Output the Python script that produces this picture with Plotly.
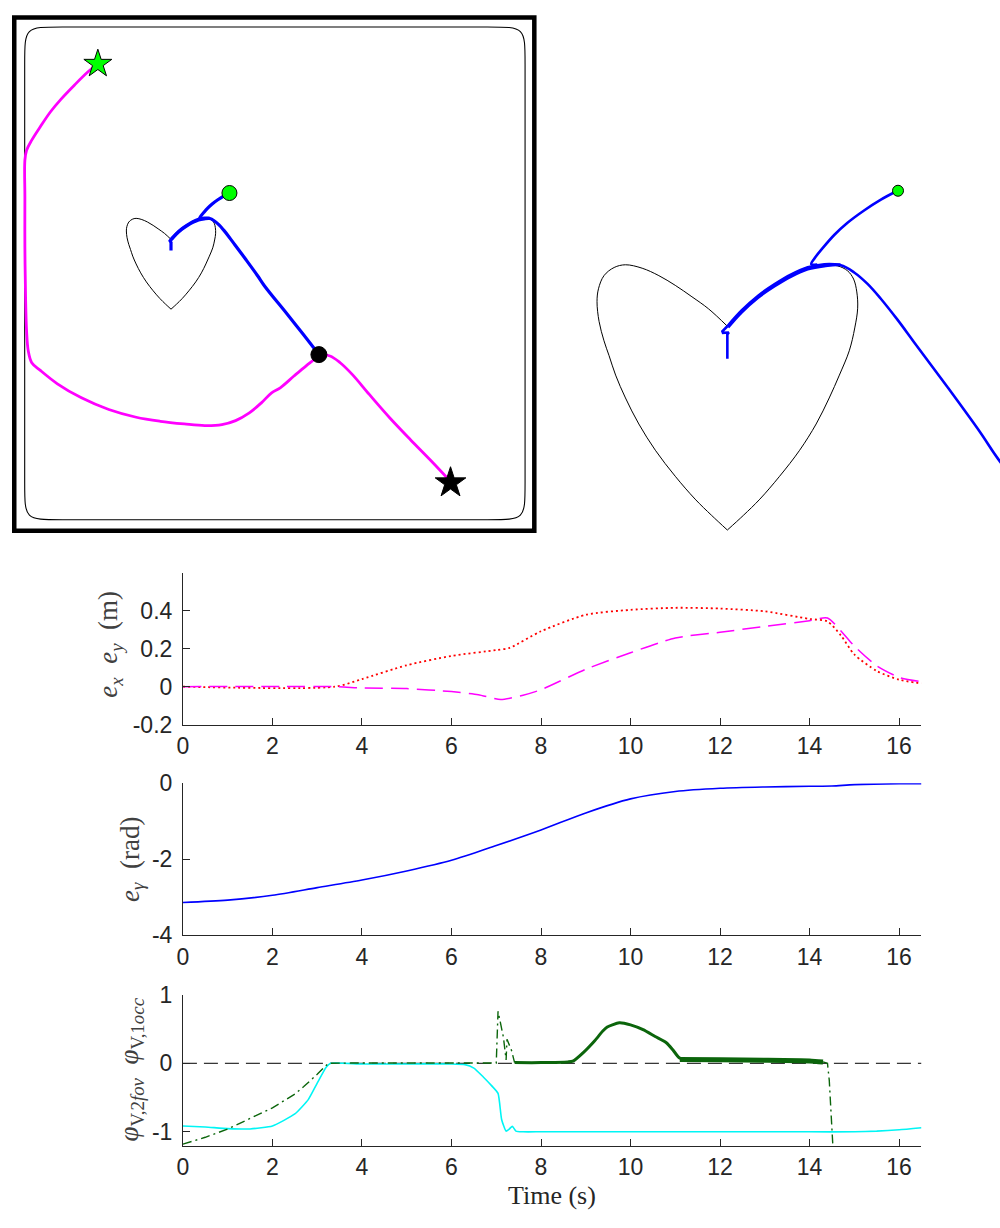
import plotly.graph_objects as go

W, H = 1000, 1228

# ---------------- workspace (metres) ----------------
# heart-shaped target contour, drawn as two halves meeting at the cusp
heart_left_x = [-1.045, -1.099, -1.156, -1.2245, -1.293, -1.350, -1.396, -1.430, -1.4525, -1.470,
                -1.487, -1.494, -1.489, -1.470, -1.435, -1.396, -1.3385, -1.281, -1.2245, -1.167,
                -1.110, -1.045]
heart_left_y = [-0.366, -0.315, -0.258, -0.178, -0.087, 0.005, 0.096, 0.176, 0.244, 0.296,
                0.364, 0.433, 0.478, 0.524, 0.5525, 0.562, 0.550, 0.524, 0.490, 0.450,
                0.408, 0.347]
heart_right_x = [-1.045, -0.996, -0.939, -0.882, -0.825, -0.768, -0.711, -0.665, -0.631, -0.610,
                 -0.599, -0.596, -0.606, -0.625, -0.659, -0.694, -0.739, -0.796, -0.865, -0.933,
                 -0.990, -1.045]
heart_right_y = [0.347, 0.398, 0.450, 0.490, 0.524, 0.549, 0.560, 0.558, 0.541, 0.512,
                 0.467, 0.410, 0.341, 0.261, 0.176, 0.096, 0.005, -0.087, -0.178, -0.258,
                 -0.315, -0.366]

# arena boundary (rounded square)
arena_half = 2.517
arena_corner = 0.38

# robot 1 (magenta): start (green star) -> goal (black star)
mag_x = [-1.781, -1.877, -2.015, -2.153, -2.257, -2.360, -2.446, -2.498, -2.515, -2.515,
         -2.515, -2.508, -2.498, -2.481, -2.446, -2.360, -2.188, -1.946, -1.671, -1.395,
         -1.153, -0.912, -0.705, -0.533, -0.395, -0.257, -0.136, -0.033, 0.054, 0.192,
         0.312, 0.398, 0.443, 0.554, 0.657, 0.778, 0.950, 1.157, 1.364, 1.571, 1.767]
mag_y = [2.140, 2.062, 1.925, 1.778, 1.651, 1.498, 1.361, 1.258, 1.156, 0.780,
         0.267, -0.246, -0.588, -0.793, -0.913, -0.991, -1.128, -1.272, -1.391, -1.470,
         -1.511, -1.538, -1.555, -1.545, -1.504, -1.425, -1.323, -1.220, -1.169, -1.049,
         -0.947, -0.878, -0.834, -0.844, -0.913, -1.032, -1.237, -1.477, -1.699, -1.914, -2.126]

# robot 2 (blue), split into passes
blue1_x = [-0.459, -0.516, -0.574, -0.631, -0.676, -0.716, -0.745, -0.756, -0.735]
blue1_y = [0.821, 0.790, 0.752, 0.709, 0.667, 0.621, 0.584, 0.564, 0.563]
blue2_x = [-0.655, -0.711, -0.768, -0.825, -0.882, -0.939, -0.996, -1.045]
blue2_y = [0.563, 0.564, 0.553, 0.528, 0.494, 0.454, 0.402, 0.347]
blue3_x = [-1.045, -1.062, -1.060, -1.040, -1.045, -1.045]
blue3_y = [0.347, 0.329, 0.324, 0.325, 0.318, 0.233]
blue4_x = [-1.042, -0.996, -0.939, -0.882, -0.825, -0.768, -0.711, -0.654, -0.608, -0.562,
           -0.517, -0.459, -0.403, -0.288, -0.174, -0.106, 0.125, 0.275, 0.443]
blue4_y = [0.343, 0.395, 0.447, 0.487, 0.521, 0.546, 0.557, 0.560, 0.535, 0.495,
           0.444, 0.370, 0.293, 0.136, -0.024, -0.126, -0.418, -0.610, -0.830]

start1 = (-1.781, 2.140)
goal1 = (1.767, -2.140)
start2 = (-0.457, 0.821)
meet = (0.443, -0.830)

# ---------------- time histories ----------------
t_ex = [0, 3.4, 4, 5, 6, 7, 7.3, 8, 9, 10, 11, 12, 13, 14, 14.4, 14.7, 15, 15.5, 16, 16.5]
e_x = [0, 0, 0.04, 0.113, 0.162, 0.193, 0.205, 0.292, 0.379, 0.405, 0.416, 0.412, 0.397, 0.357,
       0.344, 0.27, 0.17, 0.083, 0.037, 0.017]
t_ey = [0, 3.4, 4, 5, 6, 6.6, 7.1, 7.6, 8, 9, 10, 11, 12, 13, 14, 14.4, 15, 15.5, 16, 16.5]
e_y = [0, 0, -0.007, -0.010, -0.026, -0.042, -0.068, -0.045, -0.016, 0.092, 0.179, 0.257, 0.287,
       0.318, 0.348, 0.362, 0.214, 0.110, 0.049, 0.026]

t_g = [0, 1, 2, 3, 4, 5, 6, 7, 8, 9, 10, 11, 12, 13, 14, 14.5, 15, 16, 16.5]
e_g = [-3.14, -3.08, -2.95, -2.75, -2.55, -2.31, -2.03, -1.64, -1.23, -0.78, -0.41, -0.215,
       -0.13, -0.095, -0.077, -0.07, -0.035, -0.01, -0.01]

t_fov = [0, 0.5, 1.0, 1.5, 2.0, 2.5, 2.8, 3.0, 3.2, 3.3, 4.0, 5.0, 6.0, 6.3, 6.5, 6.71, 6.9,
         7.04, 7.12, 7.22, 7.29, 7.36, 7.44, 7.6, 8.0, 10.0, 12.0, 14.0, 15.0, 15.5, 16.0, 16.5]
phi_fov = [-0.915, -0.93, -0.953, -0.958, -0.915, -0.74, -0.53, -0.29, -0.057, 0.0, -0.01,
           -0.01, -0.01, -0.02, -0.07, -0.20, -0.33, -0.44, -0.82, -0.99, -0.96, -0.92, -0.99,
           -1.0, -1.0, -1.0, -1.0, -1.0, -1.0, -0.99, -0.97, -0.94]

t_occ_a = [0, 0.5, 1.0, 1.5, 2.0, 2.5, 2.7, 3.0, 3.25, 4, 5, 6, 7.0, 7.04, 7.16, 7.22, 7.24,
           7.34, 7.41]
phi_occ_a = [-1.18, -1.08, -0.96, -0.81, -0.65, -0.45, -0.34, -0.16, 0.0, 0.005, 0.005, 0.005,
             0.005, 0.76, 0.38, 0.05, 0.35, 0.19, 0.01]
t_occ_b = [7.41, 8.0, 8.6, 8.71, 8.95, 9.2, 9.38, 9.48, 9.75, 10.0, 10.28, 10.55, 10.8, 10.94,
           11.08, 11.2]
phi_occ_b = [0.01, 0.01, 0.02, 0.03, 0.16, 0.33, 0.47, 0.53, 0.59, 0.56, 0.49, 0.39, 0.30, 0.20,
             0.085, 0.05]
t_occ_c = [11.1, 12, 13, 14, 14.3]
phi_occ_c = [0.055, 0.05, 0.045, 0.035, 0.02]
t_occ_d = [14.3, 14.4, 14.44, 14.48, 14.52]
phi_occ_d = [0.02, 0.0, -0.25, -0.75, -1.2]

t_ticks = [0, 2, 4, 6, 8, 10, 12, 14, 16]
exy_ticks = [-0.2, 0, 0.2, 0.4]
exy_text = ["-0.2", "0", "0.2", "0.4"]
eg_ticks = [-4, -2, 0]
eg_text = ["-4", "-2", "0"]
phi_ticks = [-1, 0, 1]
phi_text = ["-1", "0", "1"]

# ---------------- colours ----------------
MAG = "#FF00FF"
BLUE = "#0000FF"
LIME = "#00FF00"
CYAN = "#00F5F5"
DKGREEN = "#0B650B"
AX = "#262626"


def xdom(a, b):
    return [a / W, b / W]


def ydom(top, bottom):
    return [1 - bottom / H, 1 - top / H]


fig = go.Figure()


def line(x, y, ax, color, width, dash="solid", shape="spline", smoothing=1.0):
    fig.add_trace(go.Scatter(x=x, y=y, xaxis="x" + ax, yaxis="y" + ax, mode="lines",
                             line=dict(color=color, width=width, dash=dash, shape=shape,
                                       smoothing=smoothing if shape == "spline" else None),
                             hoverinfo="skip"))


def marker(pt, ax, symbol, size, color):
    fig.add_trace(go.Scatter(x=[pt[0]], y=[pt[1]], xaxis="x" + ax, yaxis="y" + ax,
                             mode="markers",
                             marker=dict(symbol=symbol, size=size, color=color,
                                         line=dict(color="black", width=1)),
                             hoverinfo="skip"))


# ---- overview panel and zoomed view ----
for ax, hw, bw in (("", 1.0, 3.2), ("2", 1.0, 2.6)):
    line(heart_left_x, heart_left_y, ax, "black", hw)
    line(heart_right_x, heart_right_y, ax, "black", hw)
    if ax == "":
        line(mag_x, mag_y, ax, MAG, 2.8)
    line(blue1_x, blue1_y, ax, BLUE, bw)
    line(blue2_x, blue2_y, ax, BLUE, bw)
    line(blue3_x, blue3_y, ax, BLUE, bw, shape="linear")
    line(blue4_x, blue4_y, ax, BLUE, bw)

marker(start1, "", "star", 21, LIME)
marker(goal1, "", "star", 23, "black")
marker(start2, "", "circle", 15, LIME)
marker(meet, "", "circle", 16, "black")
marker(start2, "2", "circle", 11, LIME)

# ---- error plots ----
line(t_ex, e_x, "3", "#FF0000", 1.8, dash="2px,3px", smoothing=0.7)
line(t_ey, e_y, "3", MAG, 1.5, dash="18px,8px", smoothing=0.6)

line(t_g, e_g, "4", BLUE, 1.6, smoothing=0.8)

line([0, 16.5], [0, 0], "5", "black", 1.0, dash="14px,7px", shape="linear")
line(t_fov, phi_fov, "5", CYAN, 1.6, smoothing=0.5)
line(t_occ_a, phi_occ_a, "5", DKGREEN, 1.4, dash="9px,4px,2px,4px", shape="linear")
line(t_occ_b, phi_occ_b, "5", DKGREEN, 3.0, smoothing=0.6)
line(t_occ_c, phi_occ_c, "5", DKGREEN, 5.0, smoothing=0.6)
line(t_occ_d, phi_occ_d, "5", DKGREEN, 1.4, dash="9px,4px,2px,4px", shape="linear")

# ---------------- layout ----------------
hidden = dict(visible=False, showgrid=False, zeroline=False, fixedrange=True)

tick_font = dict(family="Liberation Sans, Arial, sans-serif", size=23, color=AX)


def time_x(anchor):
    return dict(domain=xdom(178, 921), anchor=anchor, range=[0, 16.5],
                tickvals=t_ticks, ticks="inside", ticklen=7, tickcolor=AX, tickwidth=1,
                showline=True, linecolor=AX, linewidth=1, showgrid=False, zeroline=False,
                tickfont=tick_font, ticklabelstandoff=1)


def time_y(anchor, top, bottom, rng, vals, text):
    return dict(domain=ydom(top, bottom), anchor=anchor, range=rng, tickvals=vals,
                ticktext=text, ticks="inside", ticklen=7, tickcolor=AX, tickwidth=1,
                showline=True, linecolor=AX, linewidth=1, showgrid=False, zeroline=False,
                tickfont=tick_font, ticklabelstandoff=5)


# overview scale: 100 px per metre, centre of frame at (270.5, 266) px
fx0, fx1, fy0, fy1 = 8.3, 531.5, 4.5, 529.0
ov_cx, ov_cy, ov_s = 270.5, 266.0, 100.0
# zoomed view: cusp of the heart at (725.7, 320) px, 292 px per metre
zx0, zx1, zy0, zy1 = 560.0, 1000.0, 140.0, 545.0
cusp = (-1.045, 0.347)
z_cx, z_cy, z_s = 725.7, 320.0, 292.0

fig.update_layout(
    width=W, height=H, autosize=False,
    margin=dict(l=0, r=0, t=0, b=0),
    paper_bgcolor="white", plot_bgcolor="white",
    showlegend=False,
    xaxis=dict(domain=xdom(fx0, fx1), anchor="y",
               range=[(fx0 - ov_cx) / ov_s, (fx1 - ov_cx) / ov_s], **hidden),
    yaxis=dict(domain=ydom(fy0, fy1), anchor="x",
               range=[(ov_cy - fy1) / ov_s, (ov_cy - fy0) / ov_s], **hidden),
    xaxis2=dict(domain=xdom(zx0, zx1), anchor="y2",
                range=[cusp[0] + (zx0 - z_cx) / z_s, cusp[0] + (zx1 - z_cx) / z_s], **hidden),
    yaxis2=dict(domain=ydom(zy0, zy1), anchor="x2",
                range=[cusp[1] - (zy1 - z_cy) / z_s, cusp[1] - (zy0 - z_cy) / z_s], **hidden),
    xaxis3=time_x("y3"),
    yaxis3=time_y("x3", 572, 727, [-0.2, 0.6], exy_ticks, exy_text),
    xaxis4=time_x("y4"),
    yaxis4=time_y("x4", 787, 942, [-4, 0], eg_ticks, eg_text),
    xaxis5=time_x("y5"),
    yaxis5=time_y("x5", 1003, 1157, [-1.2, 1], phi_ticks, phi_text),
)

a, c = arena_half, arena_corner
arena_path = (f"M {-a + c},{a} L {a - c},{a} C {a},{a} {a},{a} {a},{a - c} "
              f"L {a},{-a + c} C {a},{-a} {a},{-a} {a - c},{-a} "
              f"L {-a + c},{-a} C {-a},{-a} {-a},{-a} {-a},{-a + c} "
              f"L {-a},{a - c} C {-a},{a} {-a},{a} {-a + c},{a} Z")
fig.add_shape(type="path", path=arena_path, xref="x", yref="y", layer="below",
              line=dict(color="black", width=1.1))
fig.add_shape(type="rect", xref="paper", yref="paper",
              x0=fx0 / W, x1=fx1 / W, y0=1 - fy1 / H, y1=1 - fy0 / H,
              line=dict(color="black", width=4.5))

title_font = dict(family="Liberation Serif, Times New Roman, serif", size=27, color="#404040")
sp = "&nbsp;&nbsp;"
titles = [
    (105, 645, f"<i>e</i><sub><i>x</i></sub>{sp}<i>e</i><sub><i>y</i></sub>{sp}(m)"),
    (126, 865, f"<i>e</i><sub><i>γ</i></sub>{sp}(rad)"),
    (126, 1079, f"<i>φ</i><sub>V,2<i>fov</i></sub>{sp}<i>φ</i><sub>V,1<i>occ</i></sub>"),
]
for x, y, txt in titles:
    fig.add_annotation(x=x / W, y=1 - y / H, xref="paper", yref="paper", text=txt,
                       textangle=-90, showarrow=False, xanchor="center", yanchor="middle",
                       font=title_font)
fig.add_annotation(x=549.5 / W, y=1 - 1208 / H, xref="paper", yref="paper", text="Time (s)",
                   showarrow=False, xanchor="center", yanchor="middle",
                   font=dict(family="Liberation Serif, Times New Roman, serif", size=26,
                             color="#262626"))

fig.write_html("out.html")
